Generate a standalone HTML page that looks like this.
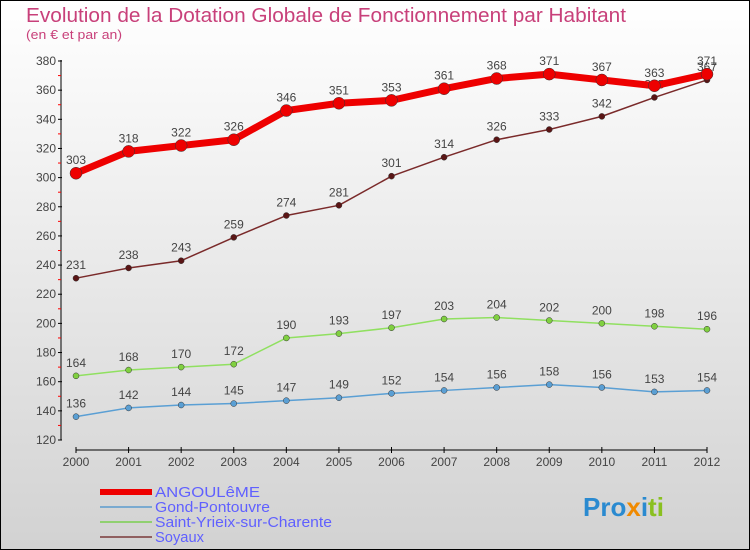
<!DOCTYPE html>
<html><head><meta charset="utf-8"><style>
body{margin:0;width:750px;height:550px;overflow:hidden;font-family:"Liberation Sans",sans-serif}
svg{display:block}
</style></head><body>
<svg id="chart" width="750" height="550" xmlns="http://www.w3.org/2000/svg">
<defs><linearGradient id="bg" x1="0" y1="0" x2="0" y2="1"><stop offset="0" stop-color="#ffffff"/><stop offset="1" stop-color="#d2d2d2"/></linearGradient></defs>
<rect x="0.5" y="0.5" width="749" height="549" fill="url(#bg)" stroke="#000"/>
<text x="26" y="22" font-size="20" fill="#c8407a" textLength="600" lengthAdjust="spacingAndGlyphs">Evolution de la Dotation Globale de Fonctionnement par Habitant</text>
<text x="26" y="39" font-size="13" fill="#c8407a" textLength="96" lengthAdjust="spacingAndGlyphs">(en € et par an)</text>
<g id="axes"></g><g id="series"></g><g id="legend"></g>
<text x="583" y="516" font-size="26" font-weight="bold" fill="#2a8ad0">Pro<tspan fill="#f08a00">x</tspan><tspan fill="#2a8ad0">i</tspan><tspan fill="#8ac020">ti</tspan></text>
</svg>
<script>
const years=[2000,2001,2002,2003,2004,2005,2006,2007,2008,2009,2010,2011,2012];
const yTicks=[120,140,160,180,200,220,240,260,280,300,320,340,360,380];
const angouleme=[303,318,322,326,346,351,353,361,368,371,367,363,371];
const gond=[136,142,144,145,147,149,152,154,156,158,156,153,154];
const saintYrieix=[164,168,170,172,190,193,197,203,204,202,200,198,196];
const soyaux=[231,238,243,259,274,281,301,314,326,333,342,355,367];
const NS="http://www.w3.org/2000/svg";
const x=i=>76+i*(707-76)/(years.length-1);
const y=v=>440-(v-120)*(379/260);
function mk(tag,attrs,parent){const e=document.createElementNS(NS,tag);for(const k in attrs)e.setAttribute(k,attrs[k]);parent.appendChild(e);return e;}
const axes=document.getElementById('axes');
let a=mk('line',{x1:61,y1:60,x2:61,y2:440,stroke:'#000'},axes);


yTicks.forEach((t,i)=>{
 mk('line',{x1:58,x2:62,y1:y(t),y2:y(t),stroke:'#000'},axes);
 if(i<yTicks.length-1){mk('line',{x1:58,x2:61,y1:y(t+10),y2:y(t+10),stroke:'#f00'},axes);}
 const tx=mk('text',{x:56,y:y(t)+4,'text-anchor':'end','font-size':12,fill:'#444'},axes);
 tx.textContent=t;
 
 
});
a=mk('line',{x1:76,y1:450,x2:707,y2:450,stroke:'#000'},axes);


years.forEach((yr,i)=>{
 mk('line',{x1:x(i),x2:x(i),y1:447,y2:453,stroke:'#000'},axes);
 const tx=mk('text',{x:x(i),y:466,'text-anchor':'middle','font-size':12,fill:'#444'},axes);
 tx.textContent=yr;
 
 
});
const seriesG=document.getElementById('series');
function draw(vals,color,dot,w,r,name){
 const g=mk('g',{},seriesG);
 
 
 const p=mk('polyline',{points:vals.map((v,i)=>x(i)+','+y(v)).join(' '),fill:'none',stroke:color,'stroke-width':w,'stroke-linejoin':'round'},g);
 
 
 vals.forEach((v,i)=>{
  const c=mk('circle',{cx:x(i),cy:y(v),r:r,fill:dot,stroke:'#333','stroke-width':0.5},g);
  
  
  const t=mk('text',{x:x(i),y:y(v)-9,'text-anchor':'middle','font-size':12,fill:'#444'},g);
  t.textContent=v;
  
  
 });
}
draw(gond,'#5a9fd4','#5a9fd4',1.5,3,'gond-pontouvre');
draw(saintYrieix,'#90e060','#80d040',1.5,3,'saint-yrieix');
draw(soyaux,'#7a2a2a','#5a1515',1.5,3,'soyaux');
draw(angouleme,'#ee0000','#ee0000',7,6,'angouleme');
const lg=document.getElementById('legend');
const items=[['ANGOULêME','#ee0000',6,105],['Gond-Pontouvre','#7aaad0',2,115],['Saint-Yrieix-sur-Charente','#90d070',2,177],['Soyaux','#906060',2,49]];
items.forEach((it,i)=>{
 const yy=492+i*15;
 const l=mk('line',{x1:100,x2:152,y1:yy,y2:yy,stroke:it[1],'stroke-width':it[2]},lg);
 
 
 const t=mk('text',{x:155,y:yy+5,'font-size':15,fill:'#6060ff',textLength:it[3],lengthAdjust:'spacingAndGlyphs'},lg);
 t.textContent=it[0];
 
 
});
</script>
</body></html>
